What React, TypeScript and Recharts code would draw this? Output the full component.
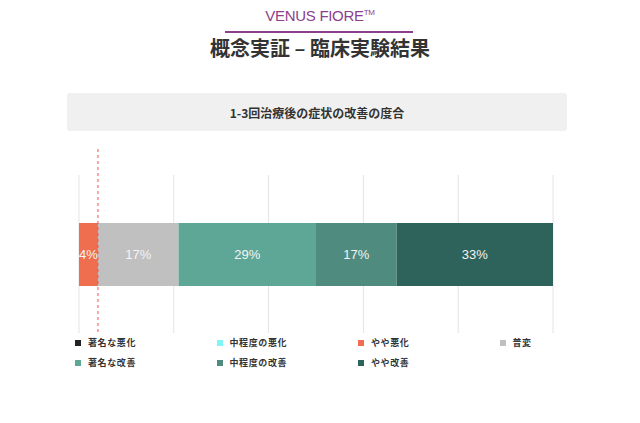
import React from "react";
import { BarChart, Bar, XAxis, YAxis, CartesianGrid, ReferenceLine, LabelList } from "recharts";

const categories = ["1-3回治療後"];
const seriesNames = ["著名な悪化", "中程度の悪化", "やや悪化", "普変", "著名な改善", "中程度の改善", "やや改善"];
const seriesKeys = ["s1", "s2", "s3", "s4", "s5", "s6", "s7"];
const seriesValues = [0, 0, 4, 17, 29, 17, 33];
const seriesColors = ["#222222", "#7ff5f5", "#ef6e50", "#c0c0c0", "#5ea796", "#4f8c7f", "#2d635a"];
const xTicks = [0, 20, 40, 60, 80, 100];
const referenceValue = 4;

const data = categories.map((c) => {
  const row: Record<string, any> = { name: c };
  seriesKeys.forEach((k, i) => (row[k] = seriesValues[i]));
  return row;
});

const RefShape = (props: any) => {
  const { x1, y1, x2, y2 } = props;
  const top = Math.min(y1, y2);
  const bottom = Math.max(y1, y2);
  return (
    <line x1={x1} x2={x2} y1={top - 26} y2={bottom + 1} stroke="#f25050" strokeWidth={1} strokeDasharray="3 3" />
  );
};

export default function App() {
  return (
    <div style={{ position: "absolute", left: 0, top: 0, width: 640, height: 423, background: "#fff", fontFamily: "'Liberation Sans', sans-serif" }}>
      <div style={{ position: "absolute", top: 7, left: 0, width: 640, textAlign: "center", color: "#8b3f8c", fontSize: 15, letterSpacing: -0.3 }}>
        VENUS FIORE<sup style={{ fontSize: 8 }}>TM</sup>
      </div>
      <div style={{ position: "absolute", top: 31, left: 225, width: 188, height: 2, background: "#8b3f8c" }} />
      <div style={{ position: "absolute", top: 35, left: 0, width: 640, textAlign: "center", color: "#333", fontSize: 20, fontWeight: 700, fontFamily: "'Noto Sans CJK JP', sans-serif", lineHeight: "26px" }}>
        概念実証 – 臨床実験結果
      </div>
      <div style={{ position: "absolute", top: 93, left: 67, width: 500, height: 38, background: "#f0f0f0", borderRadius: 3, display: "flex", alignItems: "center", justifyContent: "center", color: "#333", fontSize: 12, fontWeight: 700, fontFamily: "'Noto Sans CJK JP', sans-serif" }}>
        1-3回治療後の症状の改善の度合
      </div>
      <div style={{ position: "absolute", left: 0, top: 0 }}>
        <BarChart width={640} height={423} data={data} layout="vertical" margin={{ top: 175, right: 87, bottom: 90, left: 79 }}>
          <CartesianGrid horizontal={false} vertical={true} stroke="#e3e3e3" />
          <XAxis type="number" domain={[0, 100]} ticks={xTicks} hide />
          <YAxis type="category" dataKey="name" hide />
          {seriesKeys.map((k, i) => (
            <Bar key={k} dataKey={k} name={seriesNames[i]} stackId="a" fill={seriesColors[i]} barSize={63} isAnimationActive={false}>
              {seriesValues[i] > 0 && (
                <LabelList dataKey={k} position="center" fill="#f4f4f4" fontSize={13} fontFamily="'Liberation Sans', sans-serif" formatter={(v: any) => `${v}%`} />
              )}
            </Bar>
          ))}
          <ReferenceLine x={referenceValue} shape={RefShape} ifOverflow="visible" />
        </BarChart>
      </div>
      <div style={{ position: "absolute", top: 336, left: 75, display: "grid", gridTemplateColumns: "141.5px 141.5px 141.5px 141.5px", rowGap: 7, fontFamily: "'Noto Sans CJK JP', sans-serif", fontSize: 9, fontWeight: 700, color: "#333", letterSpacing: 0.6 }}>
        {seriesNames.map((n, i) => (
          <div key={n} style={{ display: "flex", alignItems: "center", height: 13 }}>
            <span style={{ display: "inline-block", width: 6, height: 6, background: seriesColors[i], marginRight: 7 }} />
            <span>{n}</span>
          </div>
        ))}
      </div>
    </div>
  );
}
